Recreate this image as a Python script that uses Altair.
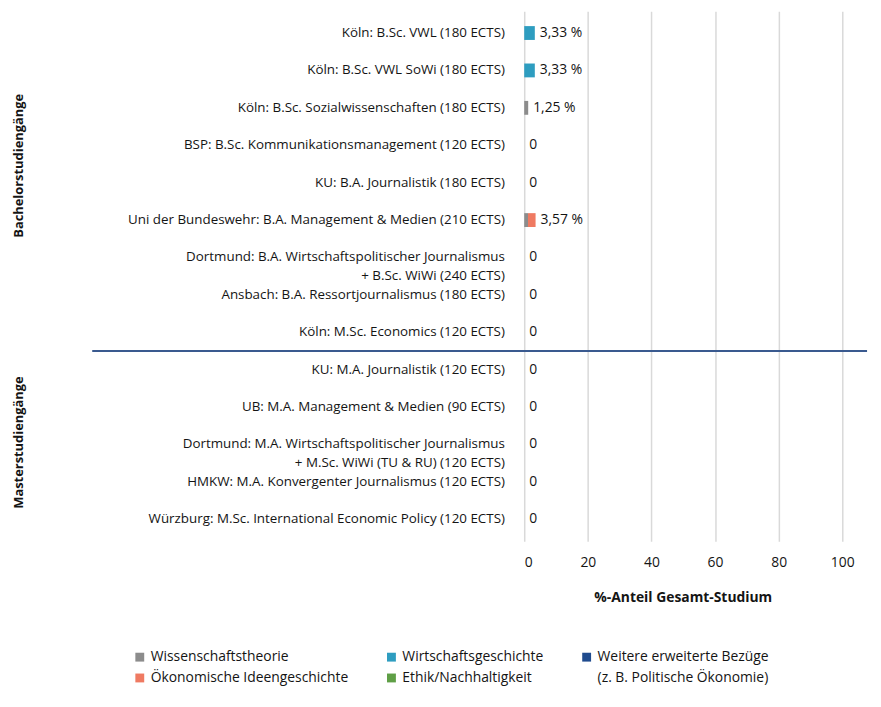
import altair as alt
import pandas as pd

programs = [
    "Köln: B.Sc. VWL (180 ECTS)",
    "Köln: B.Sc. VWL SoWi (180 ECTS)",
    "Köln: B.Sc. Sozialwissenschaften (180 ECTS)",
    "BSP: B.Sc. Kommunikationsmanagement (120 ECTS)",
    "KU: B.A. Journalistik (180 ECTS)",
    "Uni der Bundeswehr: B.A. Management & Medien (210 ECTS)",
    "Dortmund: B.A. Wirtschaftspolitischer Journalismus\n+ B.Sc. WiWi (240 ECTS)",
    "Ansbach: B.A. Ressortjournalismus (180 ECTS)",
    "Köln: M.Sc. Economics (120 ECTS)",
    "KU: M.A. Journalistik (120 ECTS)",
    "UB: M.A. Management & Medien (90 ECTS)",
    "Dortmund: M.A. Wirtschaftspolitischer Journalismus\n+ M.Sc. WiWi (TU & RU) (120 ECTS)",
    "HMKW: M.A. Konvergenter Journalismus (120 ECTS)",
    "Würzburg: M.Sc. International Economic Policy (120 ECTS)",
]

series_names = [
    "Wissenschaftstheorie",
    "Ökonomische Ideengeschichte",
    "Wirtschaftsgeschichte",
    "Ethik/Nachhaltigkeit",
    "Weitere erweiterte Bezüge",
]

wissenschaftstheorie = [0, 0, 1.25, 0, 0, 1.19, 0, 0, 0, 0, 0, 0, 0, 0]
oekonomische_ideengeschichte = [0, 0, 0, 0, 0, 2.38, 0, 0, 0, 0, 0, 0, 0, 0]
wirtschaftsgeschichte = [3.33, 3.33, 0, 0, 0, 0, 0, 0, 0, 0, 0, 0, 0, 0]
ethik_nachhaltigkeit = [0, 0, 0, 0, 0, 0, 0, 0, 0, 0, 0, 0, 0, 0]
weitere_bezuege = [0, 0, 0, 0, 0, 0, 0, 0, 0, 0, 0, 0, 0, 0]

series_values = [
    wissenschaftstheorie,
    oekonomische_ideengeschichte,
    wirtschaftsgeschichte,
    ethik_nachhaltigkeit,
    weitere_bezuege,
]

groups = ["Bachelorstudiengänge", "Masterstudiengänge"]

# legend: the last entry is the second line of "Weitere erweiterte Bezüge"
legend_domain = [
    "Wissenschaftstheorie",
    "Wirtschaftsgeschichte",
    "Weitere erweiterte Bezüge",
    "Ökonomische Ideengeschichte",
    "Ethik/Nachhaltigkeit",
    "(z. B. Politische Ökonomie)",
]
legend_colors = ["#8c8c8c", "#2e9dc0", "#1f4b8e", "#ef7a62", "#5f9f46", "transparent"]

TXT = "#141414"
FS = 14

rows = []
for si, (name, vals) in enumerate(zip(series_names, series_values)):
    for p, v in zip(programs, vals):
        rows.append({"program": p, "series": name, "value": v, "idx": si})
df = pd.DataFrame(rows)

totals = pd.DataFrame({
    "program": programs,
    "total": [round(sum(s[i] for s in series_values), 2) for i in range(len(programs))],
})

sep_df = pd.DataFrame({"program": [programs[8]]})

yscale = alt.Scale(paddingInner=0.63, paddingOuter=0.4)
ydef = dict(sort=programs, scale=yscale)

bars = alt.Chart(df).mark_bar().encode(
    y=alt.Y(
        "program:N",
        title=None,
        axis=alt.Axis(
            labelExpr="split(datum.label, '\\n')",
            labelPadding=20,
            ticks=False,
            domain=False,
            labelFontSize=13.5,
            labelFontWeight=500,
            labelLineHeight=18.5,
            labelLimit=600,
            labelColor=TXT,
        ),
        **ydef,
    ),
    x=alt.X(
        "value:Q",
        stack="zero",
        scale=alt.Scale(domain=[0, 107.8], nice=False),
        axis=alt.Axis(
            values=[0, 20, 40, 60, 80, 100],
            title="%-Anteil Gesamt-Studium",
            grid=True,
            gridColor="#d9d9d9",
            gridWidth=1.5,
            domain=False,
            ticks=False,
            labelPadding=15,
            labelFontSize=FS,
            labelFontWeight=500,
            labelColor=TXT,
            titlePadding=21,
            titleX=160,
            titleFontSize=FS,
            titleFontWeight="bold",
            titleColor=TXT,
        ),
    ),
    color=alt.Color(
        "series:N",
        scale=alt.Scale(domain=legend_domain, range=legend_colors),
        legend=alt.Legend(
            orient="none",
            legendX=-395,
            legendY=645,
            columns=3,
            direction="horizontal",
            symbolType="square",
            symbolSize=80,
            symbolStrokeWidth=0,
            labelFontSize=FS,
            labelFontWeight=500,
            labelColor=TXT,
            columnPadding=36,
            rowPadding=7,
            labelLimit=400,
            padding=0,
            title=None,
        ),
    ),
    order=alt.Order("idx:Q"),
)

labels = alt.Chart(totals).transform_calculate(
    lab="datum.total == 0 ? '0' : replace(format(datum.total, '.2f'), '.', ',') + ' %'"
).mark_text(align="left", baseline="middle", dx=5, fontSize=FS, fontWeight=500, color=TXT).encode(
    y=alt.Y("program:N", **ydef),
    x=alt.X("total:Q"),
    text="lab:N",
)

separator = alt.Chart(sep_df).mark_rule(color="#3a5a8f", strokeWidth=2, yOffset=12).encode(
    y=alt.Y("program:N", bandPosition=1, **ydef),
    x=alt.value(-436),
    x2=alt.value(346),
)


def group_label(name, anchor, offset):
    d = pd.DataFrame({"program": [anchor], "group": [name]})
    return alt.Chart(d).mark_text(
        angle=270, fontWeight="bold", fontSize=13, align="center", baseline="middle",
        color=TXT, yOffset=offset,
    ).encode(
        y=alt.Y("program:N", **ydef),
        x=alt.value(-510),
        text="group:N",
    )


g1 = group_label(groups[0], programs[4], -17)
g2 = group_label(groups[1], programs[11], -2)

chart = alt.layer(bars, labels, separator, g1, g2).properties(
    width=346,
    height=535,
    padding={"left": 5, "top": 0, "right": 5, "bottom": 5},
    background="white",
).configure(font="Open Sans").configure_view(stroke=None)

chart.save("out.html", embed_options={"renderer": "svg", "actions": False})
